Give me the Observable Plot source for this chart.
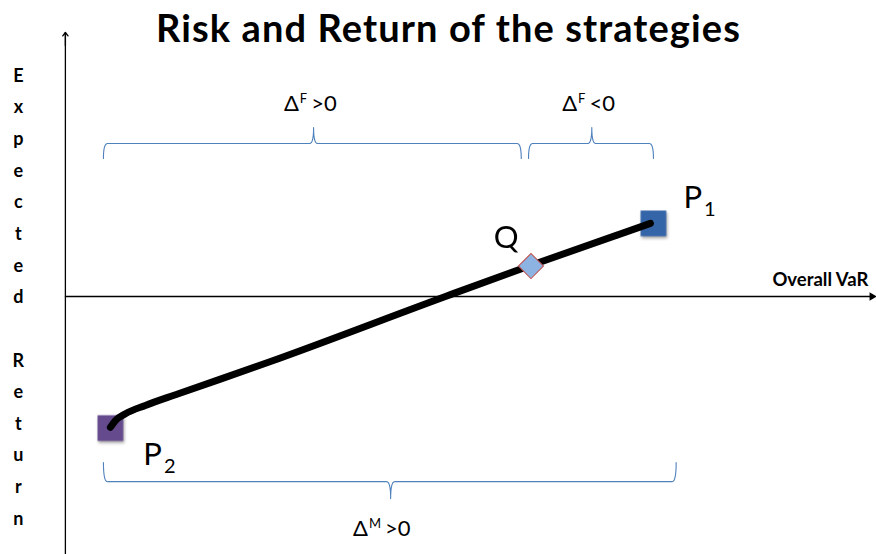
<!DOCTYPE html>
<html><head><meta charset="utf-8">
<script src="https://cdn.jsdelivr.net/npm/d3@7"></script>
<script src="https://cdn.jsdelivr.net/npm/@observablehq/plot@0.6"></script>
<style>
body{margin:0;background:#fff;}
#chart svg{display:block;}
.shadow{filter:drop-shadow(1px 2px 1.5px rgba(0,0,0,0.35));}
.title text{letter-spacing:1.1px;}
</style></head><body><div id="chart"></div>
<script>
// ---- data ----
const title = "Risk and Return of the strategies";
const xAxisLabel = "Overall VaR";
const yAxisLabel = "Expected Return";
const xDomain = [-8, 100];
const yDomain = [-99.2, 113.8];
const yAxisTop = 101.5;

const pointNames = ["P1", "Q", "P2"];
const pointX = [72.5, 57.4, 5.55];
const pointY = [28.1, 11.7, -50.6];

const curveX = [5.55, 6.17, 7.40, 9.86, 13.93, 25.03, 46.86, 57.34, 72.13];
const curveY = [-50.3, -47.7, -45.1, -41.9, -37.4, -25.3, 0, 11.9, 28.1];

const braceStart = [4.69, 57.1, 4.69];
const braceEnd = [56.2, 72.5, 75.3];
const braceTip = [30.6, 64.9, 40.1];
const braceLineY = [58.8, 58.8, -71.2];
const braceEndY = [53.1, 53.1, -63.8];
const braceTipY = [65.0, 65.0, -77.7];

const deltaBase = ["Δ", "Δ", "Δ"];
const deltaSup = ["F", "F", "M"];
const deltaRest = [">0", "<0", ">0"];
const deltaX = [30.2, 64.5, 39.0];
const deltaY = [74.2, 74.2, -89.2];

const labelMain = ["P", "Q", "P"];
const labelSub = ["1", "", "2"];
const labelX = [76.2, 52.8, 9.6];
const labelY = [34.2, 18.5, -64.6];

// ---- derived tables ----
const squares = [0, 2].map(i => ({name: pointNames[i], x: pointX[i], y: pointY[i]}));
const diamond = [1].map(i => ({name: pointNames[i], x: pointX[i], y: pointY[i]}));
const curve = curveX.map((x, i) => ({x, y: curveY[i]}));

function quad(p0, c, p1, n = 10) {
  const out = [];
  for (let k = 0; k <= n; k++) {
    const t = k / n, u = 1 - t;
    out.push([u*u*p0[0] + 2*u*t*c[0] + t*t*p1[0], u*u*p0[1] + 2*u*t*c[1] + t*t*p1[1]]);
  }
  return out;
}
const rx = 0.5;
const bracePts = [];
braceStart.forEach((x0, i) => {
  const x1 = braceEnd[i], xt = braceTip[i], yl = braceLineY[i], ye = braceEndY[i], yt = braceTipY[i];
  const pts = [
    ...quad([x0, ye], [x0, yl], [x0 + rx, yl]),
    ...quad([xt - rx, yl], [xt, yl], [xt, yt]),
    ...quad([xt, yt], [xt, yl], [xt + rx, yl]),
    ...quad([x1 - rx, yl], [x1, yl], [x1, ye])
  ];
  pts.forEach(p => bracePts.push({id: i, x: p[0], y: p[1]}));
});
const deltas = deltaBase.map((b, i) => ({text: b + deltaSup[i] + deltaRest[i], x: deltaX[i], y: deltaY[i]}));
const labels = labelMain.map((m, i) => ({text: m + labelSub[i], x: labelX[i], y: labelY[i]}));

const font = "Lato, 'Open Sans', sans-serif";

const chart = Plot.plot({
  width: 876,
  height: 554,
  margin: 0,
  x: {domain: xDomain, axis: null},
  y: {domain: yDomain, axis: null},
  style: {fontFamily: font, background: "#fff", overflow: "visible"},
  marks: [
    Plot.ruleX([0], {y1: yDomain[0], y2: yAxisTop, stroke: "#000", strokeWidth: 1.3}),
    Plot.arrow([0], {x1: 0, x2: 0, y1: yAxisTop - 5, y2: yAxisTop, stroke: "#000", strokeWidth: 1.3, headLength: 8, headAngle: 75}),
    Plot.ruleY([0], {x1: 0, x2: xDomain[1] - 0.5, stroke: "#000", strokeWidth: 1.3}),
    Plot.dot([0], {x: xDomain[1] - 0.55, y: 0, symbol: "triangle", rotate: 90, r: 3.2, fill: "#000", stroke: "none"}),
    Plot.line(bracePts, {x: "x", y: "y", z: "id", stroke: "#4f81bd", strokeWidth: 1.1, curve: "linear"}),
    Plot.dot(squares, {x: "x", y: "y", symbol: "square", r: 14.5, fill: d => d.name === "P1" ? "#3565a9" : "#654a8e", stroke: "none", className: "shadow"}),
    Plot.line(curve, {x: "x", y: "y", curve: "monotone-x", stroke: "#000", strokeWidth: 7, strokeLinecap: "round", strokeLinejoin: "round"}),
    Plot.dot(diamond, {x: "x", y: "y", symbol: "square", rotate: 45, r: 10, fill: "#8db3e2", stroke: "#c0504d", strokeWidth: 1}),
    Plot.text(deltas, {x: "x", y: "y", text: "text", fontSize: 22, fill: "#000", textAnchor: "middle", lineAnchor: "middle", className: "delta"}),
    Plot.text(labels, {x: "x", y: "y", text: "text", fontSize: 31, fill: "#000", textAnchor: "start", lineAnchor: "bottom", className: "plabel"}),
    Plot.text([xAxisLabel], {x: xDomain[1] - 1, y: 3.85, text: d => d, fontSize: 18.5, fontWeight: "bold", fill: "#000", textAnchor: "end", lineAnchor: "bottom"}),
    Plot.text([yAxisLabel], {x: -5.8, y: 1.3, text: d => d.split("").join("\n"), fontSize: 18, fontWeight: "bold", fill: "#000", textAnchor: "middle", lineAnchor: "middle", lineHeight: 1.758}),
    Plot.text([title], {frameAnchor: "top", text: d => d, dx: 10, dy: 15, fontSize: 38, fontWeight: "bold", fill: "#000", lineAnchor: "top", className: "title"})
  ]
});
document.getElementById("chart").appendChild(chart);

// rich text: superscripts and subscripts
const ns = "http://www.w3.org/2000/svg";
function tspan(parent, txt, attrs) {
  const t = document.createElementNS(ns, "tspan");
  for (const k in attrs) t.setAttribute(k, attrs[k]);
  t.textContent = txt;
  parent.appendChild(t);
}
chart.querySelectorAll("g.delta text").forEach((el, j) => {
  const i = typeof el.__data__ === "number" ? el.__data__ : j;
  el.textContent = "";
  tspan(el, deltaBase[i], {});
  tspan(el, deltaSup[i], {"font-size": 13, dy: -8, dx: 1});
  tspan(el, deltaRest[i], {"font-size": 22, dy: 8, dx: 4});
});
chart.querySelectorAll("g.plabel text").forEach((el, j) => {
  const i = typeof el.__data__ === "number" ? el.__data__ : j;
  el.textContent = "";
  tspan(el, labelMain[i], {});
  if (labelSub[i]) tspan(el, labelSub[i], {"font-size": 20, dy: 8, dx: 2});
});
</script></body></html>
